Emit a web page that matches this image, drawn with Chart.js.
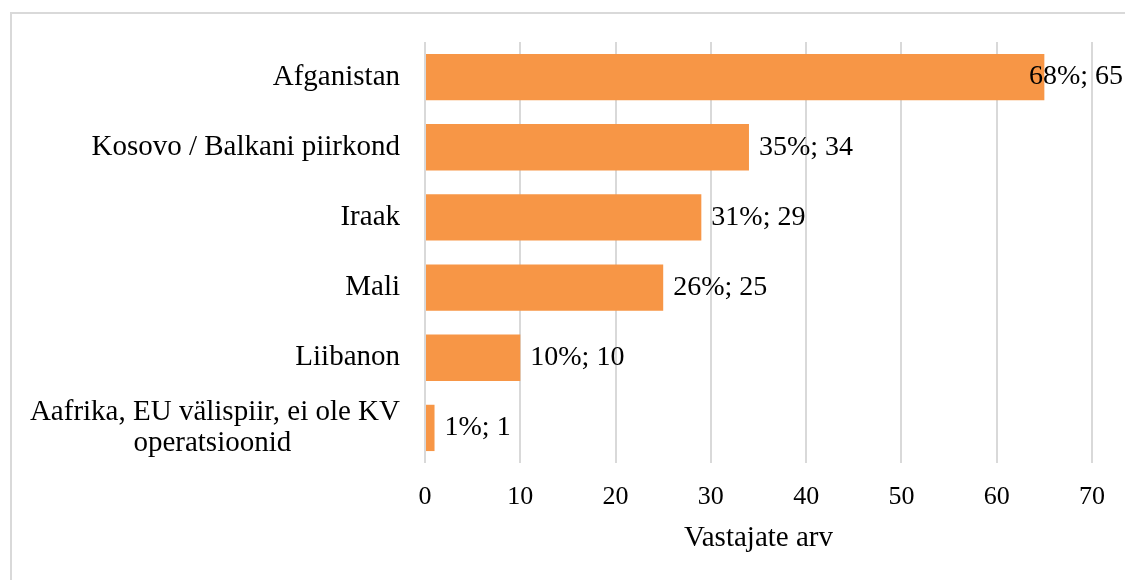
<!DOCTYPE html>
<html>
<head>
<meta charset="utf-8">
<script src="https://cdn.jsdelivr.net/npm/chart.js@4"></script>
<style>
  html, body { margin: 0; padding: 0; background: #fff; }
  #wrap { width: 1125px; height: 580px; position: relative; }
</style>
</head>
<body>
<div id="wrap"><canvas id="myChart" width="1125" height="580"></canvas></div>
<script>
  const categories = [
    'Afganistan',
    'Kosovo / Balkani piirkond',
    'Iraak',
    'Mali',
    'Liibanon',
    ['Aafrika, EU välispiir, ei ole KV', 'operatsioonid']
  ];
  const counts = [65, 34, 29, 25, 10, 1];
  const percents = [68, 35, 31, 26, 10, 1];
  const xTicks = [0, 10, 20, 30, 40, 50, 60, 70];

  const serif = '"Liberation Serif", "Times New Roman", serif';
  const barColor = 'rgb(247, 150, 70)';
  const gridColor = '#d9d9d9';

  // pad the shorter lines of a multi-line label so they look centred
  const measureCtx = document.createElement('canvas').getContext('2d');
  function centerLines(lines, font) {
    measureCtx.font = font;
    const sp = measureCtx.measureText(' ').width;
    const widths = lines.map(l => measureCtx.measureText(l).width);
    const max = Math.max(...widths);
    return lines.map((l, i) => l + ' '.repeat(Math.round((max - widths[i]) / 2 / sp)));
  }

  // light frame around the chart, cut off at the right and bottom
  const framePlugin = {
    id: 'frame',
    beforeDraw(chart) {
      const ctx = chart.ctx;
      ctx.save();
      ctx.fillStyle = '#fff';
      ctx.fillRect(0, 0, chart.width, chart.height);
      ctx.strokeStyle = gridColor;
      ctx.lineWidth = 2;
      ctx.strokeRect(11, 13, chart.width + 50, chart.height + 50);
      ctx.restore();
    }
  };

  // "68%; 65" style value labels
  const valueLabels = {
    id: 'valueLabels',
    afterDatasetsDraw(chart) {
      const ctx = chart.ctx;
      const meta = chart.getDatasetMeta(0);
      ctx.save();
      ctx.font = '28px ' + serif;
      ctx.fillStyle = '#000';
      ctx.textBaseline = 'middle';
      ctx.textAlign = 'left';
      meta.data.forEach((bar, i) => {
        const txt = percents[i] + '%; ' + counts[i];
        const w = ctx.measureText(txt).width;
        let x = bar.x + 10;
        if (x + w > chart.width - 2) x = chart.width - 2 - w;
        ctx.fillText(txt, x, bar.y);
      });
      ctx.restore();
    }
  };

  const config = {
    type: 'bar',
    data: {
      labels: categories,
      datasets: [{
        data: counts,
        backgroundColor: barColor,
        barPercentage: 0.66,
        categoryPercentage: 1
      }]
    },
    options: {
      indexAxis: 'y',
      responsive: false,
      animation: false,
      layout: {
        padding: { top: 42, right: 33, bottom: 24, left: 0 }
      },
      scales: {
        x: {
          min: 0,
          max: 70,
          afterBuildTicks(scale) {
            scale.ticks = xTicks.map(v => ({ value: v }));
          },
          afterFit(scale) { scale.height = 93; },
          grid: { color: gridColor, lineWidth: 2, drawTicks: false },
          border: { display: false },
          ticks: {
            padding: 19,
            color: '#000',
            maxRotation: 0,
            font: { family: serif, size: 26 }
          },
          title: {
            display: true,
            text: 'Vastajate arv',
            color: '#000',
            padding: { top: 8, bottom: 0 },
            font: { family: serif, size: 29 }
          }
        },
        y: {
          afterFit(scale) {
            scale.width = 425;
            scale.paddingTop = 0;
            scale.paddingBottom = 0;
          },
          grid: { display: false, drawTicks: false },
          border: { display: false },
          ticks: {
            padding: 25,
            color: '#000',
            font: { family: serif, size: 29, lineHeight: 1.07 },
            callback: function(value) {
              const lbl = this.getLabelForValue(value);
              return Array.isArray(lbl) ? centerLines(lbl, '29px ' + serif) : lbl;
            }
          }
        }
      },
      plugins: {
        legend: { display: false },
        tooltip: { enabled: false }
      }
    },
    plugins: [framePlugin, valueLabels]
  };

  const myChart = new Chart(document.getElementById('myChart'), config);
</script>
</body>
</html>
